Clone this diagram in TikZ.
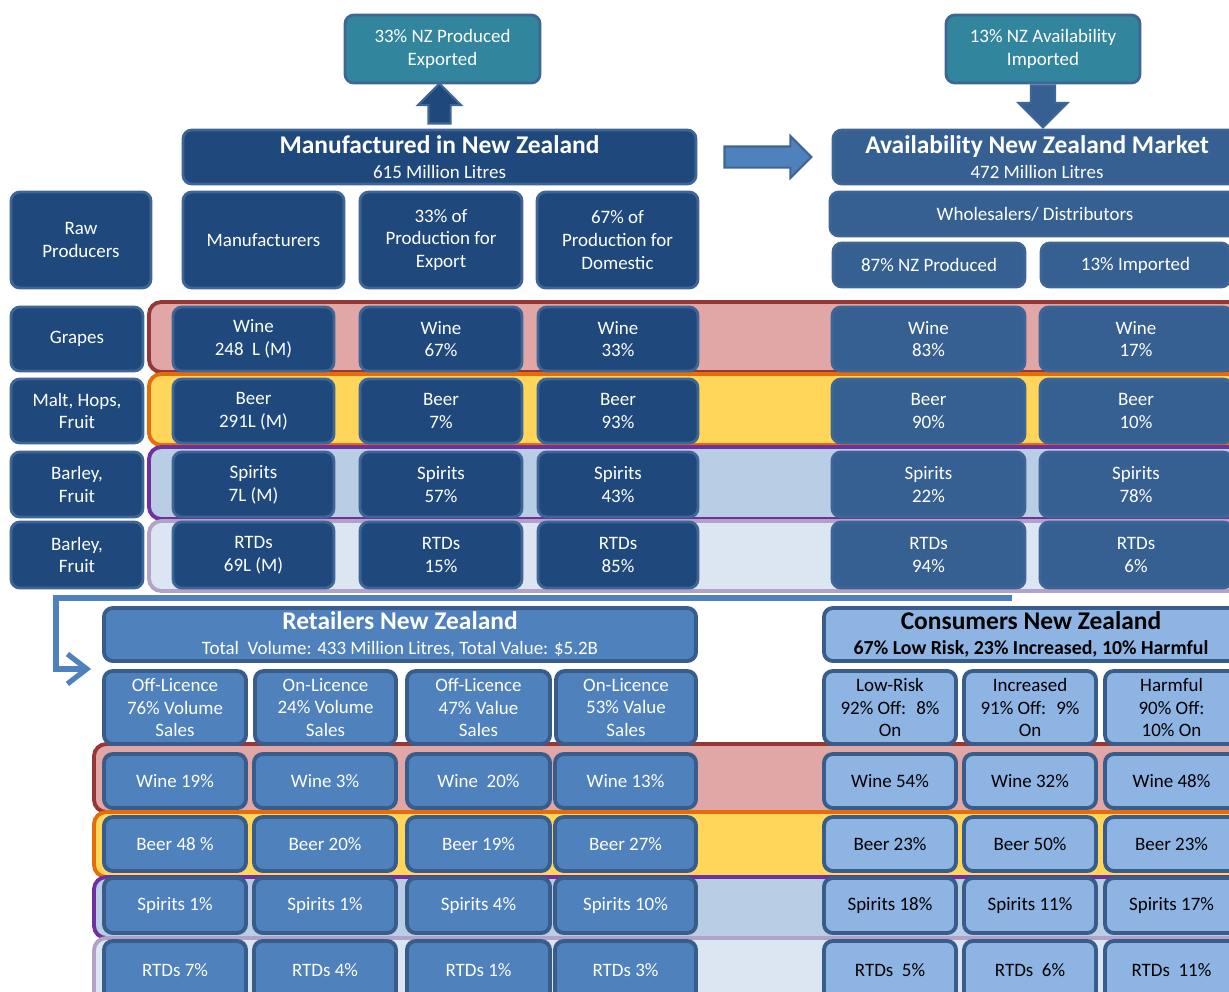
\documentclass[tikz,border=0pt]{standalone}
\usepackage{fontspec}
\setmainfont{Carlito}
\usepackage{tikz}
\usetikzlibrary{arrows.meta,positioning,calc,shapes.arrows}
\definecolor{navyfill}{HTML}{1F497D}
\definecolor{navyline}{HTML}{3E6596}
\definecolor{availfill}{HTML}{376092}
\definecolor{tealfill}{HTML}{31859C}
\definecolor{retailfill}{HTML}{4F81BD}
\definecolor{retailline}{HTML}{385D8A}
\definecolor{consfill}{HTML}{8DB4E2}
\definecolor{wineband}{HTML}{E0A7A6}
\definecolor{wineline}{HTML}{953735}
\definecolor{beerband}{HTML}{FFD65A}
\definecolor{beerline}{HTML}{E46C0A}
\definecolor{spiritband}{HTML}{B9CDE5}
\definecolor{spiritline}{HTML}{7030A0}
\definecolor{rtdband}{HTML}{DCE6F2}
\definecolor{rtdline}{HTML}{B3A2C7}
\newcommand{\boxtitle}[1]{{\fontsize{14.5}{17}\selectfont\bfseries #1}}
\tikzset{
  cell/.style n args={4}{
    at={({(#1+#3)/2},{(#2+#4)/2})},
    minimum width={(#3-#1)*0.02cm}, minimum height={(#4-#2)*0.02cm}
  },
  navybox/.style={
    rectangle, rounded corners=5pt, draw=navyline, line width=1.6pt,
    fill=navyfill, text=white, align=center, inner sep=0pt,
    font=\fontsize{10.8}{13}\selectfont
  },
  availbox/.style={navybox, fill=availfill},
  tealbox/.style={navybox, fill=tealfill},
  retailbox/.style={navybox, fill=retailfill, draw=retailline, line width=2.2pt},
  consbox/.style={retailbox, fill=consfill, text=black},
  band/.style={rectangle, rounded corners=7pt, line width=2.2pt, inner sep=0pt},
  blockarrow/.style={
    single arrow, draw=navyline, line width=1.2pt, inner xsep=0pt,
    single arrow head extend=0.21cm
  },
  flowline/.style={draw=retailfill, line width=3pt, -{Straight Barb[length=11pt, width=17pt]}},
}
\begin{document}
\begin{tikzpicture}[x=0.02cm, y=-0.02cm]
  \useasboundingbox (0,0) rectangle (1229,991);
  \clip (0,0) rectangle (1229,991);

  % coloured bands behind the drink rows
  \node[band, draw=wineline, fill=wineband, cell={149}{302}{1250}{372}] (topwine) {};
  \node[band, draw=beerline, fill=beerband, cell={149}{374}{1250}{445}] (topbeer) {};
  \node[band, draw=spiritline, fill=spiritband, cell={149}{447}{1250}{519}] (topspirits) {};
  \node[band, draw=rtdline, fill=rtdband, cell={149}{521}{1250}{591}] (toprtds) {};
  \node[band, draw=wineline, fill=wineband, cell={94}{744}{1250}{812}] (lowwine) {};
  \node[band, draw=beerline, fill=beerband, cell={94}{812}{1250}{877}] (lowbeer) {};
  \node[band, draw=spiritline, fill=spiritband, cell={94}{877}{1250}{938}] (lowspirits) {};
  \node[band, draw=rtdline, fill=rtdband, cell={94}{938}{1250}{1010}] (lowrtds) {};

  \node[tealbox, cell={345}{15}{540}{83}] (export) {33\% NZ Produced\\Exported};
  \node[tealbox, cell={946}{15}{1140}{83}] (import) {13\% NZ Availability\\Imported};
  \node[navybox, cell={183}{130}{696}{184}] (manuf) {\boxtitle{Manufactured in New Zealand}\\[1pt]615 Million Litres};
  \node[availbox, cell={833}{130}{1241}{184}] (avail) {\boxtitle{Availability New Zealand Market}\\[1pt]472 Million Litres};
  \node[availbox, cell={830}{192}{1240}{236}] (wholesale) {Wholesalers/ Distributors};
  \node[availbox, cell={833}{243}{1025}{287}] (nzprod) {87\% NZ Produced};
  \node[availbox, cell={1041}{243}{1230}{287}] (imported) {13\% Imported};
  \node[navybox, cell={11}{192}{151}{288}] (raw) {Raw\\Producers};
  \node[navybox, cell={183}{192}{344}{288}] (makers) {Manufacturers};
  \node[navybox, cell={360}{192}{522}{288}] (forexport) {33\% of\\Production for\\Export};
  \node[navybox, cell={537}{192}{698}{288}] (fordomestic) {67\% of\\Production for\\Domestic};

  \node[blockarrow, fill=navyfill, rotate=90, minimum height=0.8cm, inner ysep=0.2cm, anchor=tail]
    (uparrow) at ($(manuf.north)+(0,-4)$) {};
  \node[blockarrow, fill=availfill, rotate=-90, minimum height=0.84cm, inner ysep=0.22cm,
    single arrow head extend=0.25cm, anchor=tail] (downarrow) at (import.south) {};
  \node[blockarrow, fill=retailfill, minimum height=1.74cm, inner ysep=0.19cm, anchor=tail]
    (rightarrow) at ($(manuf.east)+(26,0)$) {};

  \foreach \n/\ya/\yb/\ra/\mf/\ex/\dm/\nz/\im in {
    wine/307/371/{Grapes}/{Wine\\248~ L (M)}/{Wine\\67\%}/{Wine\\33\%}/{Wine\\83\%}/{Wine\\17\%},
    beer/379/443/{Malt, Hops,\\Fruit}/{Beer\\291L (M)}/{Beer\\7\%}/{Beer\\93\%}/{Beer\\90\%}/{Beer\\10\%},
    spirits/452/517/{Barley,\\Fruit}/{Spirits\\7L (M)}/{Spirits\\57\%}/{Spirits\\43\%}/{Spirits\\22\%}/{Spirits\\78\%},
    rtds/522/588/{Barley,\\Fruit}/{RTDs\\69L (M)}/{RTDs\\15\%}/{RTDs\\85\%}/{RTDs\\94\%}/{RTDs\\6\%}}
  {
    \node[navybox, cell={11}{\ya}{143}{\yb}] (raw\n) {\ra};
    \node[navybox, cell={173}{\ya}{334}{\yb}] (make\n) {\mf};
    \node[navybox, cell={360}{\ya}{522}{\yb}] (exp\n) {\ex};
    \node[navybox, cell={538}{\ya}{698}{\yb}] (dom\n) {\dm};
    \node[availbox, cell={832}{\ya}{1025}{\yb}] (nz\n) {\nz};
    \node[availbox, cell={1040}{\ya}{1232}{\yb}] (imp\n) {\im};
  }

  \node[retailbox, cell={104}{608}{696}{661}] (retail)
    {\boxtitle{Retailers New Zealand}\\[1pt]Total~ Volume: 433 Million Litres, Total Value: \$5.2B};
  \node[consbox, cell={824}{608}{1238}{661}] (consumer)
    {\boxtitle{Consumers New Zealand}\\[1pt]{\fontsize{11.3}{12}\selectfont\bfseries 67\% Low Risk, 23\% Increased, 10\% Harmful}};

  \foreach \n/\xa/\xb/\txt in {
    offvolume/104/246/{Off-Licence\\76\% Volume\\Sales},
    onvolume/255/396/{On-Licence\\24\% Volume\\Sales},
    offvalue/407/550/{Off-Licence\\47\% Value\\Sales},
    onvalue/556/696/{On-Licence\\53\% Value\\Sales}}
    \node[retailbox, cell={\xa}{671}{\xb}{744}] (\n) {\txt};
  \foreach \n/\xa/\xb/\txt in {
    lowrisk/824/956/{Low-Risk\\92\% Off:~ 8\%\\On},
    increased/964/1096/{Increased\\91\% Off:~ 9\%\\On},
    harmful/1105/1238/{Harmful\\90\% Off:\\10\% On}}
    \node[consbox, cell={\xa}{671}{\xb}{744}] (\n) {\txt};

  \foreach \n/\ya/\yb/\offv/\onv/\offa/\ona/\lowr/\incr/\harm in {
    wine/754/808/{Wine 19\%}/{Wine 3\%}/{Wine~ 20\%}/{Wine 13\%}/{Wine 54\%}/{Wine 32\%}/{Wine 48\%},
    beer/817/871/{Beer 48 \%}/{Beer 20\%}/{Beer 19\%}/{Beer 27\%}/{Beer 23\%}/{Beer 50\%}/{Beer 23\%},
    spirits/878/933/{Spirits 1\%}/{Spirits 1\%}/{Spirits 4\%}/{Spirits 10\%}/{Spirits 18\%}/{Spirits 11\%}/{Spirits 17\%},
    rtds/941/1000/{RTDs 7\%}/{RTDs 4\%}/{RTDs 1\%}/{RTDs 3\%}/{RTDs~ 5\%}/{RTDs~ 6\%}/{RTDs~ 11\%}}
  {
    \node[retailbox, cell={104}{\ya}{246}{\yb}] (offv\n) {\offv};
    \node[retailbox, cell={254}{\ya}{396}{\yb}] (onv\n) {\onv};
    \node[retailbox, cell={407}{\ya}{550}{\yb}] (offa\n) {\offa};
    \node[retailbox, cell={555}{\ya}{696}{\yb}] (ona\n) {\ona};
    \node[consbox, cell={824}{\ya}{956}{\yb}] (lowr\n) {\lowr};
    \node[consbox, cell={964}{\ya}{1096}{\yb}] (incr\n) {\incr};
    \node[consbox, cell={1105}{\ya}{1238}{\yb}] (harm\n) {\harm};
  }

  \coordinate (flowstart) at (1012,598);
  \draw[flowline] (flowstart) -| ($(retail.south west)+(-46,6)$) -- ($(retail.south west)+(-11,6)$);
\end{tikzpicture}
\end{document}
